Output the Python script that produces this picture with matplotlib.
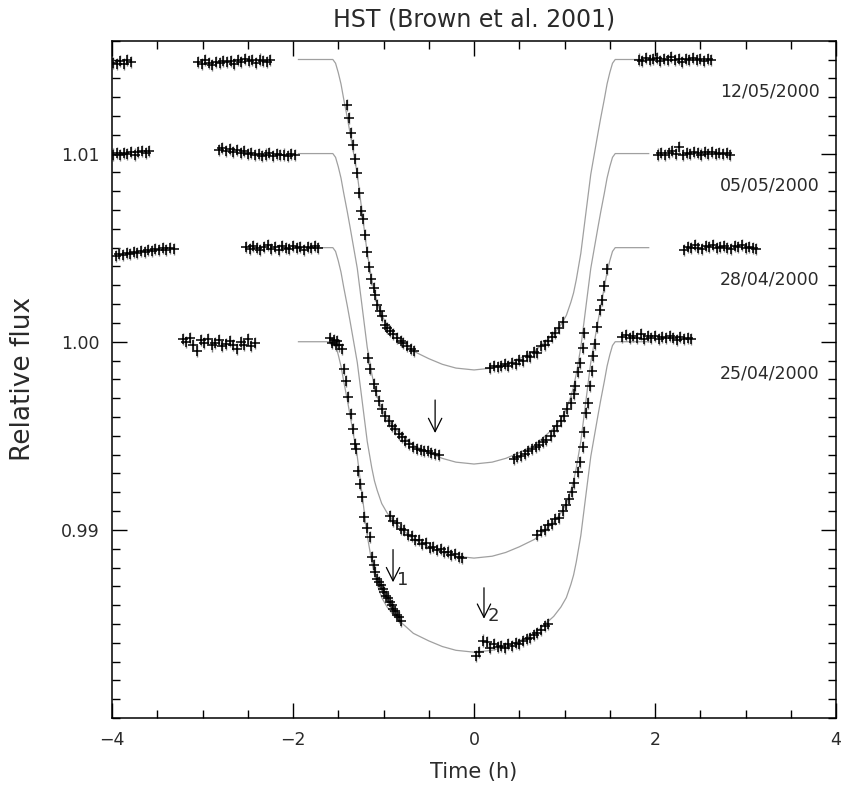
import matplotlib.pyplot as plt
import numpy as np

# transit model shape relative to each night's baseline (same for all nights)
model_t = [-1.94, -1.56, -1.53, -1.50, -1.47, -1.44, -1.40, -1.37, -1.33, -1.29,
           -1.24, -1.18, -1.13, -1.10, -1.07, -1.02, -0.96, -0.88, -0.81, -0.67,
           -0.50, -0.35, -0.20, 0.00, 0.20, 0.35, 0.50, 0.67, 0.81, 0.88, 0.96,
           1.02, 1.07, 1.10, 1.13, 1.18, 1.24, 1.29, 1.33, 1.37, 1.40, 1.44,
           1.47, 1.50, 1.53, 1.56, 1.93]
model_dip = [0.0, 0.0, -0.0002, -0.0007, -0.0013, -0.0021, -0.0031, -0.0039,
             -0.0050, -0.0061, -0.0080, -0.0103, -0.0117, -0.0124, -0.0129,
             -0.0136, -0.0141, -0.0146, -0.0149, -0.0155, -0.0159, -0.0162,
             -0.0164, -0.0165, -0.0164, -0.0162, -0.0159, -0.0155, -0.0149,
             -0.0146, -0.0141, -0.0136, -0.0129, -0.0124, -0.0117, -0.0103,
             -0.0080, -0.0061, -0.0050, -0.0039, -0.0031, -0.0021, -0.0013,
             -0.0007, -0.0002, 0.0, 0.0]

dates = ['25/04/2000', '28/04/2000', '05/05/2000', '12/05/2000']
baselines = [1.000, 1.005, 1.010, 1.015]
flux_err = 0.00032

# 25/04/2000
t_2504 = [-3.22, -3.18, -3.14, -3.10, -3.06, -3.02, -2.98, -2.94, -2.90, -2.86,
          -2.82, -2.78, -2.74, -2.70, -2.66, -2.62, -2.58, -2.54, -2.50, -2.46,
          -2.42,
          -1.59, -1.57, -1.55, -1.53, -1.51, -1.49, -1.46, -1.44, -1.41, -1.39,
          -1.36, -1.34, -1.32, -1.30, -1.28, -1.26, -1.24, -1.22, -1.18, -1.15,
          -1.13, -1.11, -1.09, -1.07, -1.05, -1.03, -1.01, -0.99, -0.97, -0.95,
          -0.93, -0.91, -0.89, -0.87, -0.85, -0.83, -0.81,
          0.02, 0.06, 0.10, 0.14, 0.18, 0.22, 0.26, 0.30, 0.34, 0.38, 0.42,
          0.46, 0.50, 0.54, 0.58, 0.62, 0.66, 0.70, 0.74, 0.78, 0.82,
          1.64, 1.68, 1.72, 1.76, 1.80, 1.84, 1.88, 1.92, 1.96, 2.00, 2.04,
          2.08, 2.12, 2.16, 2.20, 2.24, 2.28, 2.32, 2.36, 2.40]
f_2504 = [1.00012, 0.99998, 1.00020, 0.99985, 0.99950, 1.00008, 0.99992,
          1.00015, 0.99980, 0.99995, 1.00010, 0.99975, 0.99990, 1.00005,
          0.99982, 0.99960, 0.99998, 0.99985, 1.00012, 0.99978, 0.99992,
          1.00020, 0.99995, 1.00010, 0.99985, 1.00005, 0.99980, 0.99959,
          0.99857, 0.99792, 0.99704, 0.99615, 0.99536, 0.99457, 0.99430,
          0.99315, 0.99245, 0.99175, 0.99069, 0.99011, 0.98963, 0.98857,
          0.98813, 0.98778, 0.98740, 0.98722, 0.98705, 0.98688, 0.98668,
          0.98648, 0.98640, 0.98615, 0.98602, 0.98582, 0.98568, 0.98548,
          0.98538, 0.98515,
          0.98330, 0.98352, 0.98412, 0.98405, 0.98370, 0.98392, 0.98378,
          0.98385, 0.98372, 0.98392, 0.98385, 0.98400, 0.98395, 0.98410,
          0.98418, 0.98425, 0.98440, 0.98452, 0.98470, 0.98488, 0.98500,
          1.00025, 1.00035, 1.00018, 1.00030, 1.00022, 1.00040, 1.00015,
          1.00028, 1.00020, 1.00032, 1.00012, 1.00026, 1.00018, 1.00030,
          1.00022, 1.00010, 1.00025, 1.00015, 1.00020, 1.00012]

# 28/04/2000
t_2804 = [-3.96, -3.92, -3.88, -3.84, -3.80, -3.76, -3.72, -3.68, -3.64, -3.60,
          -3.56, -3.52, -3.48, -3.44, -3.40, -3.36, -3.32,
          -2.52, -2.48, -2.44, -2.40, -2.36, -2.32, -2.28, -2.24, -2.20, -2.16,
          -2.12, -2.08, -2.04, -2.00, -1.96, -1.92, -1.88, -1.84, -1.80, -1.76,
          -1.72,
          -0.93, -0.89, -0.85, -0.81, -0.77, -0.73, -0.69, -0.65, -0.61, -0.57,
          -0.53, -0.49, -0.45, -0.41, -0.37, -0.33, -0.29, -0.25, -0.21, -0.17,
          -0.13,
          0.70, 0.74, 0.78, 0.82, 0.86, 0.90, 0.94, 0.98, 1.02, 1.05, 1.08,
          1.11, 1.15, 1.17, 1.20, 1.22, 1.24, 1.26, 1.28, 1.30, 1.32, 1.34,
          1.36, 1.39, 1.41, 1.44, 1.47,
          2.32, 2.36, 2.40, 2.44, 2.48, 2.52, 2.56, 2.60, 2.64, 2.68, 2.72,
          2.76, 2.80, 2.84, 2.88, 2.92, 2.96, 3.00, 3.04, 3.08, 3.12]
f_2804 = [1.00455, 1.00468, 1.00460, 1.00472, 1.00465, 1.00478, 1.00470,
          1.00482, 1.00476, 1.00488, 1.00480, 1.00492, 1.00485, 1.00498,
          1.00490, 1.00500, 1.00494,
          1.00505, 1.00495, 1.00510, 1.00498, 1.00485, 1.00502, 1.00512,
          1.00495, 1.00505, 1.00490, 1.00508, 1.00500, 1.00492, 1.00510,
          1.00498, 1.00505, 1.00488, 1.00502, 1.00496, 1.00508, 1.00500,
          0.99072, 0.99045, 0.99035, 0.99005, 0.99000, 0.98972, 0.98970,
          0.98948, 0.98945, 0.98925, 0.98928, 0.98905, 0.98910, 0.98892,
          0.98898, 0.98880, 0.98885, 0.98868, 0.98872, 0.98855, 0.98852,
          0.98975, 0.98995, 0.99000, 0.99025, 0.99030, 0.99060, 0.99065,
          0.99100, 0.99130, 0.99165, 0.99200, 0.99250, 0.99307, 0.99360,
          0.99439, 0.99519, 0.99621, 0.99674, 0.99765, 0.99844, 0.99924,
          0.99986, 1.00079, 1.00171, 1.00224, 1.00294, 1.00386,
          1.00488, 1.00505, 1.00498, 1.00512, 1.00500, 1.00495, 1.00508,
          1.00502, 1.00515, 1.00498, 1.00505, 1.00510, 1.00500, 1.00495,
          1.00508, 1.00502, 1.00512, 1.00498, 1.00505, 1.00500, 1.00495]

# 05/05/2000
t_0505 = [-3.99, -3.95, -3.91, -3.87, -3.83, -3.79, -3.75, -3.71, -3.67, -3.63,
          -3.59,
          -2.82, -2.78, -2.74, -2.70, -2.66, -2.62, -2.58, -2.54, -2.50, -2.46,
          -2.42, -2.38, -2.34, -2.30, -2.26, -2.22, -2.18, -2.14, -2.10, -2.06,
          -2.02, -1.98,
          -1.17, -1.15, -1.11, -1.08, -1.05, -1.02, -0.98, -0.94, -0.91, -0.87,
          -0.83, -0.80, -0.76, -0.72, -0.67, -0.63, -0.59, -0.55, -0.51, -0.47,
          -0.43, -0.39,
          0.44, 0.48, 0.52, 0.56, 0.60, 0.64, 0.68, 0.72, 0.76, 0.80, 0.85,
          0.88, 0.92, 0.96, 0.99, 1.03, 1.07, 1.10, 1.12, 1.15, 1.17, 1.20,
          1.22,
          2.03, 2.07, 2.11, 2.15, 2.19, 2.23, 2.27, 2.31, 2.35, 2.39, 2.43,
          2.47, 2.51, 2.55, 2.59, 2.63, 2.67, 2.71, 2.75, 2.79, 2.83]
f_0505 = [1.00995, 1.01005, 1.00990, 1.01002, 1.00998, 1.01010, 1.00995,
          1.01008, 1.01015, 1.01005, 1.01012,
          1.01020, 1.01028, 1.01015, 1.01022, 1.01010, 1.01018, 1.01005,
          1.01012, 1.00998, 1.01005, 1.00992, 1.01000, 1.00988, 1.00995,
          1.01002, 1.00985, 1.00998, 1.00990, 1.00995, 1.00985, 1.00998,
          1.00992,
          0.99915, 0.99857, 0.99774, 0.99739, 0.99686, 0.99642, 0.99606,
          0.99580, 0.99553, 0.99536, 0.99510, 0.99492, 0.99474, 0.99457,
          0.99439, 0.99430, 0.99425, 0.99418, 0.99420, 0.99410, 0.99402,
          0.99398,
          0.99378, 0.99385, 0.99395, 0.99405, 0.99418, 0.99428, 0.99440,
          0.99450, 0.99465, 0.99480, 0.99501, 0.99527, 0.99553, 0.99580,
          0.99606, 0.99642, 0.99677, 0.99721, 0.99765, 0.99839, 0.99885,
          0.99968, 1.00044,
          1.00995, 1.01005, 1.00990, 1.01002, 1.01012, 1.00998, 1.01035,
          1.00992, 1.01005, 1.00998, 1.01008, 1.01002, 1.00995, 1.01006,
          1.01000, 1.01010, 1.00998, 1.01004, 1.00996, 1.01002, 1.00994]

# 12/05/2000
t_1205 = [-3.99, -3.95, -3.91, -3.87, -3.83, -3.79,
          -3.05, -3.01, -2.97, -2.93, -2.89, -2.85, -2.81, -2.77, -2.73, -2.69,
          -2.65, -2.61, -2.57, -2.53, -2.49, -2.45, -2.41, -2.37, -2.33, -2.29,
          -2.25,
          -1.40, -1.38, -1.36, -1.34, -1.31, -1.29, -1.27, -1.25, -1.23, -1.20,
          -1.18, -1.16, -1.14, -1.11, -1.09, -1.07, -1.04, -1.02, -0.98, -0.96,
          -0.93, -0.89, -0.85, -0.81, -0.78, -0.74, -0.70, -0.66,
          0.18, 0.22, 0.26, 0.30, 0.34, 0.38, 0.42, 0.46, 0.50, 0.54, 0.58,
          0.62, 0.66, 0.70, 0.74, 0.78, 0.82, 0.86, 0.90, 0.94, 0.98,
          1.82, 1.86, 1.90, 1.94, 1.98, 2.02, 2.06, 2.10, 2.14, 2.18, 2.22,
          2.26, 2.30, 2.34, 2.38, 2.42, 2.46, 2.50, 2.54, 2.58, 2.62]
f_1205 = [1.01482, 1.01475, 1.01490, 1.01478, 1.01495, 1.01486,
          1.01488, 1.01478, 1.01495, 1.01482, 1.01470, 1.01486, 1.01480,
          1.01492, 1.01485, 1.01490, 1.01478, 1.01496, 1.01488, 1.01502,
          1.01490, 1.01495, 1.01483, 1.01500, 1.01492, 1.01486, 1.01498,
          1.01256, 1.01190, 1.01109, 1.01044, 1.00970, 1.00897, 1.00788,
          1.00695, 1.00652, 1.00568, 1.00476, 1.00395, 1.00333, 1.00286,
          1.00250, 1.00197, 1.00162, 1.00135, 1.00091, 1.00074, 1.00056,
          1.00039, 1.00021, 1.00003, 0.99991, 0.99977, 0.99963, 0.99950,
          0.99860, 0.99872, 0.99865, 0.99870, 0.99880, 0.99872, 0.99888,
          0.99882, 0.99905, 0.99898, 0.99925, 0.99920, 0.99945, 0.99942,
          0.99975, 0.99985, 1.00005, 1.00025, 1.00045, 1.00075, 1.00105,
          1.01500, 1.01490, 1.01508, 1.01495, 1.01502, 1.01510, 1.01492,
          1.01505, 1.01498, 1.01512, 1.01495, 1.01502, 1.01488, 1.01505,
          1.01498, 1.01510, 1.01495, 1.01502, 1.01492, 1.01505, 1.01498]

nights_t = [t_2504, t_2804, t_0505, t_1205]
nights_f = [f_2504, f_2804, f_0505, f_1205]

TEXT = '#2a2a2a'

fig = plt.figure(figsize=(8.41, 7.90), dpi=100)
ax = fig.add_axes([0.1332, 0.0911, 0.8609, 0.8574])

for base in baselines:
    ax.plot(model_t, np.array(model_dip) + base, color='#a0a0a0', lw=0.9,
            zorder=1)

for t_arr, f_arr in zip(nights_t, nights_f):
    ax.errorbar(t_arr, f_arr, yerr=flux_err, fmt='none', ecolor='#808080',
                elinewidth=1.0, zorder=2)
    ax.plot(t_arr, f_arr, linestyle='none', marker='+', color='black',
            markersize=7.5, markeredgewidth=1.1, zorder=3)

for date, base in zip(dates, baselines):
    ax.text(3.82, base - 0.0017, date, ha='right', va='center',
            fontsize=12.5, color=TEXT)

# arrows marking the features
arrow_kw = dict(arrowstyle='->', lw=0.9, color='black', mutation_scale=24)
ax.annotate('', xy=(-0.43, 0.99500), xytext=(-0.43, 0.99705),
            arrowprops=arrow_kw)
ax.annotate('', xy=(-0.895, 0.98707), xytext=(-0.895, 0.98910),
            arrowprops=arrow_kw)
ax.text(-0.85, 0.98735, '1', fontsize=13, color=TEXT, va='center',
        ha='left')
ax.annotate('', xy=(0.11, 0.98513), xytext=(0.11, 0.98707),
            arrowprops=arrow_kw)
ax.text(0.155, 0.98540, '2', fontsize=13, color=TEXT, va='center',
        ha='left')

ax.set_xlim(-4, 4)
ax.set_ylim(0.980, 1.016)
ax.set_xticks([-4, -2, 0, 2, 4])
ax.set_xticklabels(['\u22124', '\u22122', '0', '2', '4'])
ax.set_xticks(np.arange(-4, 4.01, 0.5), minor=True)
ax.set_yticks([0.99, 1.00, 1.01])
ax.set_yticklabels(['0.99', '1.00', '1.01'])
ax.set_yticks(np.arange(0.980, 1.0161, 0.001), minor=True)
ax.tick_params(which='both', direction='in', top=True, right=True,
               width=1.0, color='black', labelsize=12.5, labelcolor=TEXT,
               pad=9)
ax.tick_params(which='major', length=10.5)
ax.tick_params(which='minor', length=5.5)
for sp in ax.spines.values():
    sp.set_linewidth(1.1)

ax.set_xlabel('Time (h)', fontsize=15, color=TEXT, labelpad=10)
ax.set_ylabel('Relative flux', fontsize=19, color=TEXT, labelpad=18)
ax.set_title('HST (Brown et al. 2001)', fontsize=17, color=TEXT, pad=10)

fig.savefig('out.png', dpi=100)
